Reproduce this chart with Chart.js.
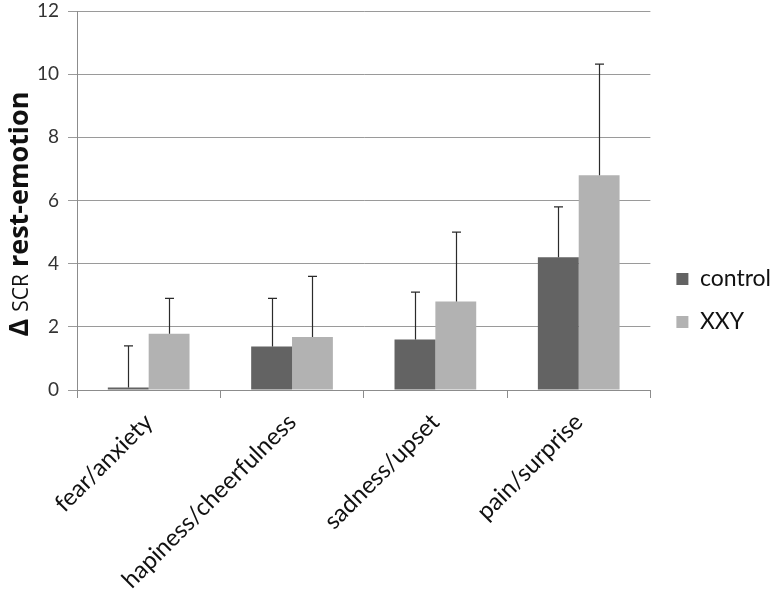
<!DOCTYPE html>
<html>
<head>
<meta charset="utf-8">
<script src="https://cdn.jsdelivr.net/npm/chart.js@4"></script>
<style>
  html, body { margin: 0; padding: 0; background: #fff; }
  #wrap { width: 775px; height: 590px; }
</style>
</head>
<body>
<div id="wrap"><canvas id="scrChart" width="775" height="590"></canvas></div>
<script>
const categories = ["fear/anxiety", "hapiness/cheerfulness", "sadness/upset", "pain/surprise"];
const controlValues = [0.08, 1.38, 1.6, 4.2];
const xxyValues = [1.78, 1.68, 2.8, 6.8];
// upward error bar lengths (top of whisker minus bar value)
const controlErrors = [1.32, 1.52, 1.5, 1.6];
const xxyErrors = [1.12, 1.92, 2.2, 3.52];
const yTicks = [0, 2, 4, 6, 8, 10, 12];

const FONT = "Lato, 'Liberation Sans', sans-serif";
const TITLE_FONT = "'Open Sans', 'DejaVu Sans', sans-serif";

// one-sided error bars drawn from each bar top upward
const errorBars = {
  id: "errorBars",
  afterDatasetsDraw(chart) {
    const ctx = chart.ctx;
    const yScale = chart.scales.y;
    ctx.save();
    ctx.strokeStyle = "#2b2b2b";
    ctx.lineWidth = 1.2;
    chart.data.datasets.forEach((ds, i) => {
      const meta = chart.getDatasetMeta(i);
      meta.data.forEach((bar, j) => {
        const top = yScale.getPixelForValue(ds.data[j] + ds.errors[j]);
        const x = Math.round(bar.x) + 0.5;
        ctx.beginPath();
        ctx.moveTo(x, bar.y);
        ctx.lineTo(x, top);
        ctx.moveTo(x - 4.5, top);
        ctx.lineTo(x + 4.5, top);
        ctx.stroke();
      });
    });
    ctx.restore();
  }
};

// push the legend a little away from the plot, like the original
const legendShift = {
  id: "legendShift",
  afterLayout(chart) {
    chart.legend.left += 6;
    chart.legend.right += 6;
  }
};

// y axis title with small "SCR"
const yTitle = {
  id: "yTitle",
  afterDraw(chart) {
    const ctx = chart.ctx;
    const parts = [
      { t: "Δ ", f: "bold 27px " + TITLE_FONT },
      { t: "SCR", f: "21px " + TITLE_FONT },
      { t: " rest-emotion", f: "bold 27px " + TITLE_FONT }
    ];
    ctx.save();
    let total = 0;
    parts.forEach(p => { ctx.font = p.f; p.w = ctx.measureText(p.t).width; total += p.w; });
    ctx.translate(19, 214);
    ctx.rotate(-Math.PI / 2);
    ctx.fillStyle = "#111";
    ctx.textBaseline = "alphabetic";
    let x = -total / 2;
    parts.forEach(p => {
      ctx.font = p.f;
      ctx.fillText(p.t, x, 9);
      x += p.w;
    });
    ctx.restore();
  }
};

new Chart(document.getElementById("scrChart").getContext("2d"), {
  type: "bar",
  data: {
    labels: categories,
    datasets: [
      { label: "control", data: controlValues, errors: controlErrors, backgroundColor: "#636363" },
      { label: "XXY", data: xxyValues, errors: xxyErrors, backgroundColor: "#b2b2b2" }
    ]
  },
  options: {
    responsive: false,
    animation: false,
    devicePixelRatio: 1,
    layout: { padding: { top: 11, right: 0, left: 0, bottom: 0 } },
    datasets: { bar: { barPercentage: 1, categoryPercentage: 0.57 } },
    plugins: {
      legend: {
        position: "right",
        align: "center",
        labels: {
          boxWidth: 12,
          boxHeight: 12,
          padding: 20,
          color: "#111",
          font: { family: FONT, size: 23 }
        }
      },
      tooltip: { enabled: false }
    },
    scales: {
      x: {
        afterFit: s => { s.height = 200; },
        grid: { offset: true, drawOnChartArea: false, tickLength: 8, color: "#8c8c8c" },
        border: { color: "#8c8c8c" },
        ticks: {
          minRotation: 45,
          maxRotation: 45,
          color: "#111",
          padding: 10,
          font: { family: FONT, size: 24 }
        }
      },
      y: {
        min: 0,
        max: 12,
        afterFit: s => { s.width = 77; s.paddingTop = 0; },
        afterBuildTicks: s => { s.ticks = yTicks.map(v => ({ value: v })); },
        grid: { color: "#9a9a9a", tickLength: 9 },
        border: { color: "#8c8c8c" },
        ticks: {
          color: "#333",
          padding: 9,
          font: { family: FONT, size: 19 }
        }
      }
    }
  },
  plugins: [errorBars, legendShift, yTitle]
});
</script>
</body>
</html>
